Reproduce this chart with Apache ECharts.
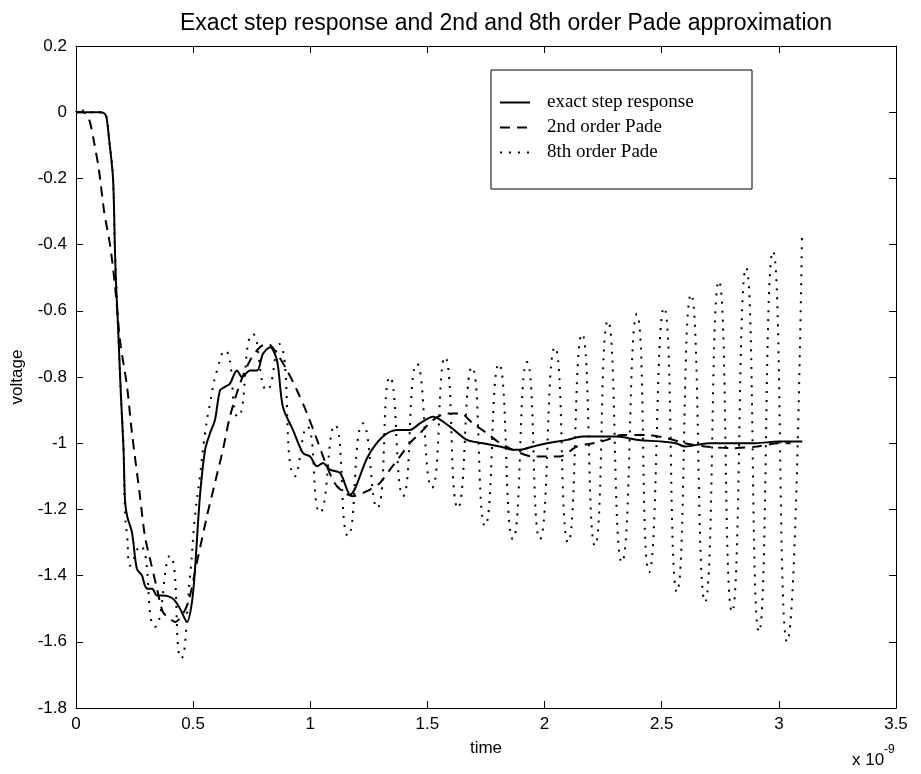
<!DOCTYPE html>
<html>
<head>
<meta charset="utf-8">
<script src="https://cdn.jsdelivr.net/npm/echarts@6/dist/echarts.min.js"></script>
<style>html,body{margin:0;padding:0;background:#fff}#c{width:921px;height:774px}</style>
</head>
<body>
<div id="c"></div>
<script>
// time in units of 1e-9 s, voltage
const xTicks = [0, 0.5, 1, 1.5, 2, 2.5, 3, 3.5];
const yTicks = [0.2, 0, -0.2, -0.4, -0.6, -0.8, -1, -1.2, -1.4, -1.6, -1.8];
const seriesNames = ['exact step response', '2nd order Pade', '8th order Pade'];

const exactResponse = [
  [0,0],[0.05,0],[0.10,0],[0.12,-0.003],[0.13,-0.015],[0.141,-0.08],[0.158,-0.2],
  [0.166,-0.41],[0.171,-0.52],[0.179,-0.64],[0.192,-0.86],[0.203,-1.02],[0.209,-1.17],
  [0.218,-1.22],[0.239,-1.27],[0.26,-1.38],[0.282,-1.40],[0.294,-1.43],[0.307,-1.44],
  [0.325,-1.44],[0.346,-1.46],[0.371,-1.46],[0.414,-1.47],[0.444,-1.50],[0.474,-1.54],
  [0.495,-1.48],[0.508,-1.38],[0.529,-1.16],[0.551,-1.02],[0.572,-0.97],[0.593,-0.93],
  [0.615,-0.84],[0.636,-0.83],[0.657,-0.82],[0.687,-0.78],[0.708,-0.80],[0.743,-0.78],
  [0.773,-0.78],[0.798,-0.73],[0.828,-0.71],[0.858,-0.75],[0.883,-0.89],[0.926,-0.96],
  [0.969,-1.03],[0.999,-1.04],[1.029,-1.07],[1.054,-1.06],[1.084,-1.08],[1.127,-1.09],
  [1.17,-1.155],[1.246,-1.04],[1.31,-0.98],[1.37,-0.96],[1.425,-0.96],[1.468,-0.94],
  [1.524,-0.92],[1.596,-0.95],[1.669,-0.99],[1.737,-1.0],[1.81,-1.01],[1.865,-1.02],
  [1.895,-1.02],[1.95,-1.01],[2.01,-1.0],[2.096,-0.99],[2.164,-0.98],[2.236,-0.98],
  [2.309,-0.98],[2.4,-0.99],[2.5,-0.995],[2.56,-1.0],[2.6,-1.01],[2.7,-1.0],[2.8,-1.0],
  [2.9,-1.0],[3.0,-0.995],[3.10,-0.995]
];

const pade2 = [
  [0,0],[0.03,0],[0.055,-0.02],[0.077,-0.09],[0.098,-0.175],[0.12,-0.30],[0.145,-0.40],
  [0.166,-0.52],[0.188,-0.69],[0.218,-0.83],[0.239,-0.97],[0.273,-1.16],[0.294,-1.28],
  [0.316,-1.35],[0.346,-1.44],[0.371,-1.51],[0.401,-1.53],[0.423,-1.54],[0.474,-1.49],
  [0.516,-1.36],[0.559,-1.22],[0.593,-1.12],[0.627,-1.02],[0.657,-0.92],[0.70,-0.82],
  [0.743,-0.75],[0.785,-0.71],[0.819,-0.70],[0.858,-0.73],[0.901,-0.78],[0.943,-0.84],
  [0.986,-0.91],[1.029,-0.99],[1.071,-1.07],[1.114,-1.13],[1.182,-1.16],[1.255,-1.14],
  [1.297,-1.12],[1.34,-1.08],[1.383,-1.04],[1.425,-1.0],[1.468,-0.97],[1.524,-0.93],
  [1.583,-0.91],[1.639,-0.91],[1.694,-0.94],[1.754,-0.97],[1.81,-1.0],[1.865,-1.02],
  [1.95,-1.04],[2.01,-1.04],[2.066,-1.04],[2.138,-1.01],[2.207,-1.0],[2.266,-0.99],
  [2.33,-0.975],[2.437,-0.975],[2.522,-0.985],[2.6,-1.0],[2.685,-1.01],[2.8,-1.015],
  [2.907,-1.01],[3.0,-1.0],[3.05,-1.0]
];

const pade8 = [
  [0,0],[0.02,0.012],[0.04,0],[0.11,0],[0.13,-0.015],[0.141,-0.08],[0.158,-0.2],
  [0.166,-0.41],[0.179,-0.64],[0.192,-0.86],[0.203,-1.02],[0.209,-1.2],[0.218,-1.28],
  [0.232,-1.37],[0.273,-1.31],[0.337,-1.555],[0.401,-1.34],[0.448,-1.65],[0.487,-1.40],
  [0.508,-1.22],[0.529,-1.10],[0.551,-0.97],[0.572,-0.88],[0.602,-0.78],[0.636,-0.72],
  [0.691,-0.92],[0.755,-0.67],[0.815,-0.84],[0.866,-0.70],[0.935,-1.10],[0.986,-0.95],
  [1.041,-1.21],[1.105,-0.945],[1.161,-1.28],[1.225,-0.94],[1.285,-1.196],[1.34,-0.80],
  [1.396,-1.16],[1.455,-0.76],[1.519,-1.135],[1.575,-0.74],[1.63,-1.196],[1.69,-0.77],
  [1.746,-1.25],[1.805,-0.76],[1.865,-1.29],[1.925,-0.755],[1.98,-1.29],[2.044,-0.71],
  [2.10,-1.30],[2.16,-0.67],[2.215,-1.31],[2.27,-0.63],[2.33,-1.36],[2.394,-0.61],
  [2.446,-1.39],[2.51,-0.59],[2.565,-1.45],[2.625,-0.55],[2.685,-1.48],[2.744,-0.51],
  [2.80,-1.51],[2.86,-0.47],[2.915,-1.57],[2.975,-0.42],[3.035,-1.60],[3.099,-0.36]
];

const fmt = v => String(Math.round(v * 10) / 10);
const sans = 'Liberation Sans, Arial, sans-serif';
const serif = 'Liberation Serif, Times New Roman, serif';

const axisCommonX = {
  type: 'value', min: xTicks[0], max: xTicks[xTicks.length - 1], interval: 0.5,
  splitLine: { show: false },
  axisLine: { show: true, onZero: false, lineStyle: { color: '#000', width: 1 } },
  axisTick: { show: true, inside: true, length: 7, lineStyle: { color: '#000' } }
};
const axisCommonY = {
  type: 'value', min: yTicks[yTicks.length - 1], max: yTicks[0], interval: 0.2,
  splitLine: { show: false },
  axisLine: { show: true, onZero: false, lineStyle: { color: '#000', width: 1 } },
  axisTick: { show: true, inside: true, length: 7, lineStyle: { color: '#000' } }
};

const chart = echarts.init(document.getElementById('c'), null, { renderer: 'canvas' });
chart.setOption({
  animation: false,
  backgroundColor: '#fff',
  color: ['#000', '#000', '#000'],
  title: {
    text: 'Exact step response and 2nd and 8th order Pade approximation',
    left: 175, top: 7,
    textStyle: { fontFamily: sans, fontSize: 23, fontWeight: 'normal', color: '#000' }
  },
  grid: { left: 76, right: 25, top: 46, bottom: 66 },
  xAxis: [
    Object.assign({}, axisCommonX, {
      position: 'bottom',
      name: 'time', nameLocation: 'middle', nameGap: 32,
      nameTextStyle: { fontFamily: sans, fontSize: 17, color: '#000' },
      axisLabel: { show: true, margin: 8, formatter: fmt,
        fontFamily: sans, fontSize: 17, color: '#000' }
    }),
    Object.assign({}, axisCommonX, { position: 'top', axisLabel: { show: false } })
  ],
  yAxis: [
    Object.assign({}, axisCommonY, {
      position: 'left',
      name: 'voltage', nameLocation: 'middle', nameGap: 50, nameRotate: 90,
      nameTextStyle: { fontFamily: sans, fontSize: 17, color: '#000' },
      axisLabel: { show: true, margin: 9, formatter: fmt,
        fontFamily: sans, fontSize: 17, color: '#000' }
    }),
    Object.assign({}, axisCommonY, { position: 'right', axisLabel: { show: false } })
  ],
  legend: {
    orient: 'vertical', left: 499, top: 92, padding: 0,
    itemWidth: 30, itemHeight: 14, itemGap: 4,
    data: seriesNames,
    itemStyle: { opacity: 0 },
    textStyle: { fontFamily: serif, fontSize: 19, color: '#000', lineHeight: 21,
      padding: [0, 0, 0, 12] }
  },
  graphic: [
    { type: 'rect', shape: { x: 491, y: 70, width: 261, height: 119 },
      style: { fill: 'none', stroke: '#000', lineWidth: 1 }, z: 10 },
    { type: 'text', left: 852, top: 752,
      style: { text: 'x 10', fontFamily: sans, fontSize: 17, fill: '#000' } },
    { type: 'text', left: 884, top: 744,
      style: { text: '-9', fontFamily: sans, fontSize: 12, fill: '#000' } }
  ],
  series: [
    { name: seriesNames[0], type: 'line', data: exactResponse, showSymbol: false, symbol: 'none',
      smooth: 0.3, itemStyle: { color: '#000' },
      lineStyle: { color: '#000', width: 2, type: 'solid' }, z: 3 },
    { name: seriesNames[1], type: 'line', data: pade2, showSymbol: false, symbol: 'none',
      smooth: 0.3, itemStyle: { color: '#000' },
      lineStyle: { color: '#000', width: 2, type: [10, 7] }, z: 2 },
    { name: seriesNames[2], type: 'line', data: pade8, showSymbol: false, symbol: 'none',
      smooth: 0.6, itemStyle: { color: '#000' },
      lineStyle: { color: '#000', width: 2, type: [2, 7] }, z: 1 }
  ]
});
</script>
</body>
</html>
